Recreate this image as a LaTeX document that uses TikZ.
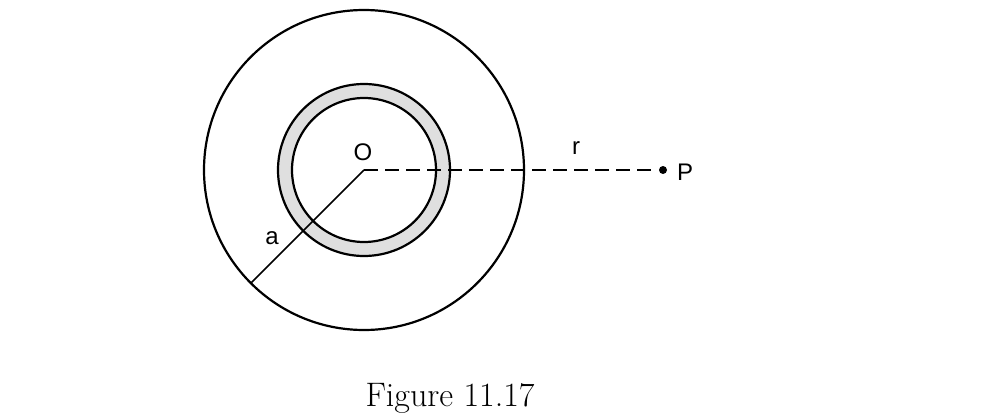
\documentclass[tikz,border=0pt]{standalone}
\usepackage{fontspec}
\usetikzlibrary{calc}
\newfontfamily\lab{Liberation Sans}
\begin{document}
\begin{tikzpicture}[x=1pt,y=-1pt,line width=2.2pt,
  lbl/.style={font=\lab\fontsize{24}{28}\selectfont,inner sep=0pt}]
\useasboundingbox (0,0) rectangle (985,420);
\coordinate (O) at (364,170);
\fill[gray!25,even odd rule] (O) circle[radius=86] (O) circle[radius=72];
\draw (O) circle[radius=160];
\draw (O) circle[radius=86];
\draw (O) circle[radius=72];
\coordinate (A) at ($(O)+(-113,113)$);
\draw[line width=1.6pt] (O) -- (A);
\node[circle,fill,inner sep=0pt,minimum size=8pt] (P) at (663,170) {};
\draw[line width=1.6pt,dash pattern=on 14pt off 7pt] (O) -- (P);
\node[lbl] (lo) at (363,152) {O};
\node[lbl] (lr) at (576,148) {r};
\node[lbl] (lp) at (685,172) {P};
\node[lbl] (la) at (272,238) {a};
\node[inner sep=0pt,font=\fontsize{34}{40}\selectfont] (cap) at (450,398) {Figure 11.17};
\end{tikzpicture}
\end{document}
